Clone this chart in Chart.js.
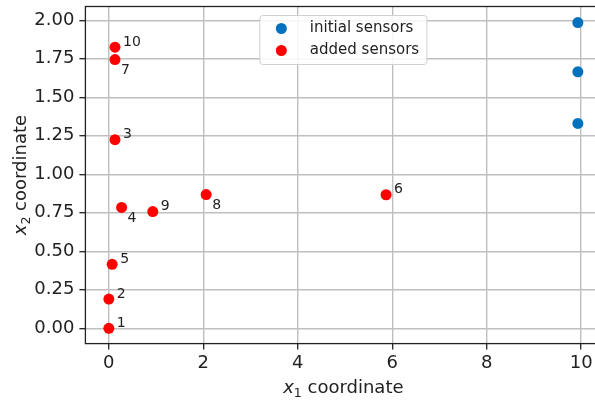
<!DOCTYPE html>
<html>
<head>
<meta charset="utf-8">
<script src="https://cdn.jsdelivr.net/npm/chart.js@4.4.0/dist/chart.umd.min.js"></script>
<style>
  html, body { margin: 0; padding: 0; background: #fff; overflow: hidden; }
  #c { display: block; }
</style>
</head>
<body>
<canvas id="c" width="612" height="400"></canvas>
<script>
// sensor positions
const initialX = [9.93, 9.93, 9.93];
const initialY = [1.33, 1.665, 1.985];

const addedIds = ['1', '2', '3', '4', '5', '6', '7', '8', '9', '10'];
const addedX = [0.00, 0.00, 0.13, 0.27, 0.07, 5.87, 0.13, 2.06, 0.93, 0.13];
const addedY = [0.00, 0.19, 1.225, 0.785, 0.415, 0.867, 1.745, 0.868, 0.758, 1.825];

const xTicks = [0, 2, 4, 6, 8, 10];
const yTicks = [0, 0.25, 0.5, 0.75, 1.0, 1.25, 1.5, 1.75, 2.0];

const legendLabels = ['initial sensors', 'added sensors'];

// label placement around each added point (below = true puts the number under the dot)
const labelBelow = [false, false, false, true, false, false, true, true, false, false];

const FONT = '"DejaVu Sans", sans-serif';
const INK = '#222222';
const BLUE = '#0072BD';
const RED = '#ff0000';

const toPts = (xs, ys) => xs.map((x, i) => ({ x, y: ys[i] }));

// numbers next to the added sensors, legend box, frame and axis titles
const decorations = {
    id: 'decorations',
    beforeDatasetsDraw(chart) {
        const { ctx, chartArea: a } = chart;
        ctx.save();
        ctx.strokeStyle = INK;
        ctx.lineWidth = 1.3;
        ctx.strokeRect(a.left, a.top, a.right - a.left, a.bottom - a.top);
        ctx.restore();
    },
    afterDraw(chart) {
        const { ctx, chartArea: a } = chart;
        const meta = chart.getDatasetMeta(1);
        ctx.save();
        ctx.fillStyle = INK;
        ctx.font = '14px ' + FONT;
        ctx.textBaseline = 'middle';
        meta.data.forEach((pt, i) => {
            const dy = labelBelow[i] ? 11 : -5;
            const dx = labelBelow[i] ? 6 : 8;
            ctx.fillText(addedIds[i], pt.x + dx, pt.y + dy);
        });

        // legend (upper center)
        const lw = 167, lh = 49;
        const lx = (a.left + a.right) / 2 - lw / 2;
        const ly = a.top + 9;
        ctx.beginPath();
        ctx.roundRect(lx, ly, lw, lh, 3);
        ctx.fillStyle = 'rgba(255,255,255,0.85)';
        ctx.fill();
        ctx.strokeStyle = '#d0d0d0';
        ctx.lineWidth = 1;
        ctx.stroke();
        const colors = [BLUE, RED];
        ctx.font = '15px ' + FONT;
        legendLabels.forEach((txt, i) => {
            const cy = ly + 13 + i * 22;
            ctx.beginPath();
            ctx.arc(lx + 21.5, cy, 5.5, 0, Math.PI * 2);
            ctx.fillStyle = colors[i];
            ctx.fill();
            ctx.fillStyle = INK;
            ctx.fillText(txt, lx + 50, cy);
        });

        // axis titles with italic x and subscript
        const title = (sub) => {
            ctx.font = 'italic 18px ' + FONT;
            const w1 = ctx.measureText('x').width;
            ctx.font = '12.5px ' + FONT;
            const w2 = ctx.measureText(sub).width;
            ctx.font = '18px ' + FONT;
            const w3 = ctx.measureText(' coordinate').width;
            const total = w1 + w2 + w3;
            ctx.textBaseline = 'alphabetic';
            ctx.textAlign = 'left';
            ctx.fillStyle = INK;
            ctx.font = 'italic 18px ' + FONT;
            ctx.fillText('x', -total / 2, 0);
            ctx.font = '12.5px ' + FONT;
            ctx.fillText(sub, -total / 2 + w1, 4);
            ctx.font = '18px ' + FONT;
            ctx.fillText(' coordinate', -total / 2 + w1 + w2, 0);
        };
        ctx.save();
        ctx.translate((a.left + a.right) / 2, 393);
        title('1');
        ctx.restore();
        ctx.save();
        ctx.translate(26, (a.top + a.bottom) / 2);
        ctx.rotate(-Math.PI / 2);
        title('2');
        ctx.restore();
        ctx.restore();
    }
};

new Chart(document.getElementById('c'), {
    type: 'scatter',
    data: {
        datasets: [
            {
                label: legendLabels[0],
                data: toPts(initialX, initialY),
                backgroundColor: BLUE,
                borderWidth: 0,
                pointRadius: 5.5
            },
            {
                label: legendLabels[1],
                data: toPts(addedX, addedY),
                backgroundColor: RED,
                borderWidth: 0,
                pointRadius: 5.5
            }
        ]
    },
    options: {
        responsive: false,
        animation: false,
        layout: { padding: { left: 0, top: 6.5, right: 10.7, bottom: 0 } },
        plugins: {
            legend: { display: false },
            tooltip: { enabled: false }
        },
        scales: {
            x: {
                type: 'linear',
                min: -0.4965,
                max: 10.4265,
                afterBuildTicks: s => { s.ticks = xTicks.map(v => ({ value: v })); },
                afterFit: s => { s.height = 56.4; s.paddingLeft = 0; s.paddingRight = 0; },
                border: { display: false },
                grid: { color: '#bfbfbf', lineWidth: 1.4, tickColor: INK, tickLength: 6, tickWidth: 1.3 },
                ticks: { color: INK, font: { family: FONT, size: 18 }, padding: 3, maxRotation: 0 }
            },
            y: {
                type: 'linear',
                min: -0.0995,
                max: 2.0895,
                afterBuildTicks: s => { s.ticks = yTicks.map(v => ({ value: v })); },
                afterFit: s => { s.width = 85.4; s.paddingTop = 0; s.paddingBottom = 0; },
                border: { display: false },
                grid: { color: '#bfbfbf', lineWidth: 1.4, tickColor: INK, tickLength: 6, tickWidth: 1.3 },
                ticks: {
                    color: INK,
                    font: { family: FONT, size: 18 },
                    padding: 5,
                    callback: v => v.toFixed(2)
                }
            }
        }
    },
    plugins: [decorations]
});
</script>
</body>
</html>
